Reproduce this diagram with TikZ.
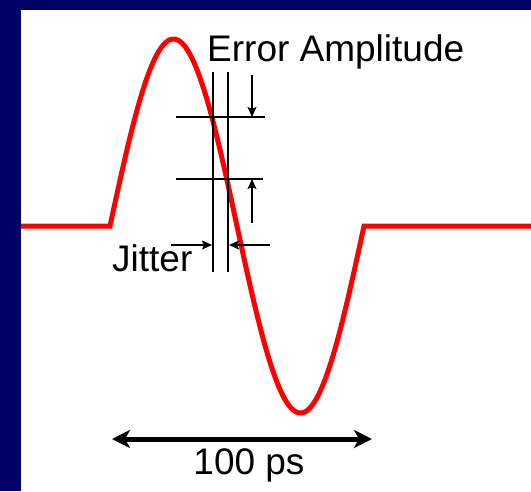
\documentclass[tikz,border=0pt]{standalone}
\usepackage{fontspec}
\setmainfont{Liberation Sans}
\usetikzlibrary{arrows.meta}
\definecolor{navy}{RGB}{0,0,102}

\begin{document}
\begin{tikzpicture}[
    x=1pt, y=-1pt,
    wave/.style={draw=red, line width=5pt},
    guide/.style={draw=black, line width=1.5pt},
    tick/.style={guide, -{Stealth[length=10pt,width=9pt,inset=2pt]}},
    span/.style={draw=black, line width=5pt,
      {Stealth[length=18pt,width=18pt,inset=5pt]}-{Stealth[length=18pt,width=18pt,inset=5pt]}},
    lbl/.style={font=\fontsize{37}{41}\selectfont, inner sep=0pt}
  ]
    \useasboundingbox (0,0) rectangle (531,491);
    \fill[navy] (0,0) rectangle (531,491);
    \fill[white] (21,10) rectangle (531,491);

    % signal
    \draw[wave] (21,226) -- plot[domain=110:364, samples=120]
      (\x, {226+187*sin((\x-237)/254*360)}) -- (531,226);

    % guide lines
    \foreach \x/\n in {213/ja, 228/jb} {
      \coordinate (\n top) at (\x,72);
      \coordinate (\n bot) at (\x,272);
      \draw[guide] (\n top) -- (\n bot);
    }
    \coordinate (hiL) at (176,117);
    \coordinate (hiR) at (265,117);
    \coordinate (loL) at (176,179);
    \coordinate (loR) at (263,179);
    \draw[guide] (hiL) -- (hiR);
    \draw[guide] (loL) -- (loR);

    % error amplitude arrows
    \coordinate (dnS) at (252,75);
    \coordinate (dnE) at (252,117);
    \coordinate (upS) at (252,223);
    \coordinate (upE) at (252,179);
    \draw[tick] (dnS) -- (dnE);
    \draw[tick] (upS) -- (upE);

    % jitter arrows
    \coordinate (jlS) at (171,245);
    \coordinate (jlE) at (212,245);
    \coordinate (jrS) at (270,245);
    \coordinate (jrE) at (229,245);
    \draw[tick] (jlS) -- (jlE);
    \draw[tick] (jrS) -- (jrE);

    % labels
    \node[lbl, anchor=base west] (amp) at (207,61) {Error Amplitude};
    \node[lbl, anchor=base west] (jit) at (112,271) {Jitter};

    % period
    \coordinate (spanL) at (112,439);
    \coordinate (spanR) at (372,439);
    \draw[span] (spanL) -- (spanR);
    \node[lbl, anchor=base] (per) at (249,474) {100 ps};
  \end{tikzpicture}
\end{document}
